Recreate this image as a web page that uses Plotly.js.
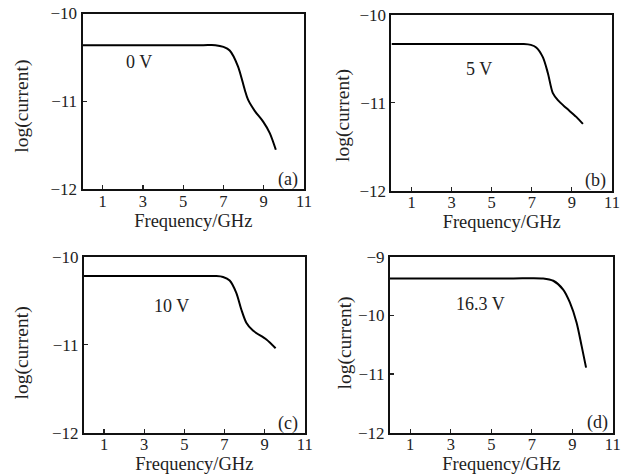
<!DOCTYPE html>
<html>
<head>
<meta charset="utf-8">
<script src="https://cdn.plot.ly/plotly-3.0.1.min.js"></script>
<style>html,body{margin:0;padding:0;background:#fff}#chart{width:628px;height:476px}</style>
</head>
<body>
<div id="chart"></div>
<script>
// Data (frequency in GHz, log(current))
const freqA = [0, 3, 6, 6.6, 7.0, 7.31, 7.72, 8.06, 8.22, 8.56, 8.97, 9.30, 9.60];
const currA = [-10.36, -10.36, -10.36, -10.36, -10.38, -10.42, -10.60, -10.87, -10.98, -11.11, -11.23, -11.36, -11.55];

const freqB = [0, 3, 6, 6.6, 6.95, 7.22, 7.55, 7.80, 8.05, 8.30, 8.72, 9.22, 9.55];
const currB = [-10.33, -10.33, -10.33, -10.33, -10.34, -10.37, -10.48, -10.66, -10.89, -10.97, -11.06, -11.16, -11.24];

const freqC = [0, 3, 6, 6.6, 6.93, 7.26, 7.59, 7.84, 8.09, 8.42, 9.09, 9.55];
const currC = [-10.22, -10.22, -10.22, -10.22, -10.23, -10.27, -10.41, -10.60, -10.75, -10.84, -10.94, -11.04];

const freqD = [0, 3, 6, 7.56, 8.06, 8.55, 8.88, 9.21, 9.46, 9.68];
const currD = [-9.37, -9.37, -9.37, -9.37, -9.41, -9.56, -9.78, -10.12, -10.52, -10.89];

const voltLabels = ["0 V", "5 V", "10 V", "16.3 V"];
const panelLabels = ["(a)", "(b)", "(c)", "(d)"];
const voltPos = [[2.8, -10.55], [4.35, -10.61], [4.35, -10.56], [4.47, -9.81]];
const panelPos = [[10.2, -11.89], [10.2, -11.88], [10.18, -11.9], [10.24, -11.83]];
const xTicks = [1, 3, 5, 7, 9, 11];
const yRanges = [[-12, -10], [-12, -10], [-12, -10], [-12, -9]];
const yTicks = [[-12, -11, -10], [-12, -11, -10], [-12, -11, -10], [-12, -11, -10, -9]];
const xTitle = "Frequency/GHz";
const yTitle = "log(current)";

const FONT = "Liberation Serif, Times New Roman, serif";
const series = [[freqA, currA], [freqB, currB], [freqC, currC], [freqD, currD]];
const xDomains = [[0.1314, 0.4841], [0.6234, 0.9745], [0.1338, 0.4852], [0.6210, 0.9758]];
const yDomains = [[0.6023, 0.9716], [0.5994, 0.9685], [0.0910, 0.4607], [0.0910, 0.4607]];
const yTitlePos = [[0.0346, 0.7773], [0.5462, 0.7563], [0.0346, 0.2590], [0.5494, 0.2784]];

const traces = series.map((s, i) => ({
  x: s[0], y: s[1], type: 'scatter', mode: 'lines',
  line: {color: '#000', width: 2, shape: 'spline', smoothing: 0.8},
  xaxis: i === 0 ? 'x' : 'x' + (i + 1),
  yaxis: i === 0 ? 'y' : 'y' + (i + 1),
  showlegend: false, hoverinfo: 'skip'
}));

const layout = {
  width: 628, height: 476,
  margin: {l: 0, r: 0, t: 0, b: 0},
  paper_bgcolor: '#fff', plot_bgcolor: '#fff',
  font: {family: FONT, color: '#222', size: 16},
  annotations: []
};

for (let i = 0; i < 4; i++) {
  const k = i === 0 ? '' : String(i + 1);
  layout['xaxis' + k] = {
    domain: xDomains[i], range: [0, 11], anchor: 'y' + k,
    tickvals: xTicks, ticktext: xTicks.map(String),
    ticks: 'inside', ticklen: 4, tickwidth: 1.2, tickcolor: '#222',
    showline: true, mirror: true, linecolor: '#111', linewidth: 2,
    showgrid: false, zeroline: false,
    tickfont: {family: FONT, size: 16.5, color: '#222'},
    ticklabelstandoff: -4,
    title: {text: xTitle, font: {family: FONT, size: 18.5, color: '#222'}, standoff: 3},
    automargin: false
  };
  layout['yaxis' + k] = {
    domain: yDomains[i], range: yRanges[i], anchor: 'x' + k,
    tickvals: yTicks[i], ticktext: yTicks[i].map(v => '\u2212' + Math.abs(v)),
    ticks: 'inside', ticklen: 4, tickwidth: 1.2, tickcolor: '#222',
    showline: true, mirror: true, linecolor: '#111', linewidth: 2,
    showgrid: false, zeroline: false,
    tickfont: {family: FONT, size: 17, color: '#222'},
    automargin: false
  };
  layout.annotations.push({
    x: yTitlePos[i][0], y: yTitlePos[i][1], xref: 'paper', yref: 'paper',
    xanchor: 'center', yanchor: 'middle', textangle: -90,
    text: yTitle, showarrow: false,
    font: {family: FONT, size: 19.5, color: '#222'}
  });
  layout.annotations.push({
    x: voltPos[i][0], y: voltPos[i][1], xref: 'x' + k, yref: 'y' + k,
    text: voltLabels[i], showarrow: false,
    font: {family: FONT, size: 18, color: '#222'}
  });
  layout.annotations.push({
    x: panelPos[i][0], y: panelPos[i][1], xref: 'x' + k, yref: 'y' + k,
    text: panelLabels[i], showarrow: false,
    font: {family: FONT, size: 18, color: '#222'}
  });
}

Plotly.newPlot('chart', traces, layout, {staticPlot: true, displayModeBar: false});
</script>
</body>
</html>
